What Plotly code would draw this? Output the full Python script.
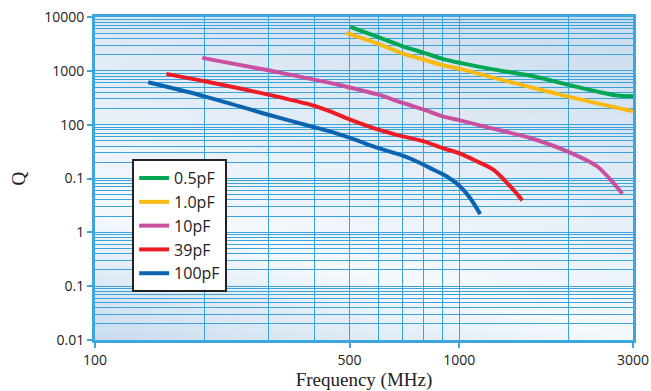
import base64
import plotly.graph_objects as go

# ---- data (frequency in MHz, Q) ----
f_05 = [502, 600, 700, 800, 900, 1006, 1217, 1597, 1980, 2440, 2717, 3000]
q_05 = [6570, 4210, 2860, 2160, 1670, 1405, 1087, 792, 555, 399, 347, 336]

f_10 = [489, 600, 700, 800, 900, 1006, 1217, 1567, 1980, 3000]
q_10 = [5080, 3170, 2095, 1620, 1270, 1087, 771, 499, 336, 177]

f_10p = [197, 299, 442, 471, 600, 700, 800, 900, 1006, 1166, 1567, 1980, 2394, 2649, 2804]
q_10p = [1742, 1023, 597, 539, 361, 253, 190, 143, 120, 93, 56.6, 31.9, 16.7, 8.3, 5.2]

f_39 = [157, 200, 299, 398, 442, 502, 600, 700, 800, 900, 1006, 1095, 1243, 1407, 1490]
q_39 = [878, 639, 361, 226, 177, 124, 80.7, 60.6, 48.9, 36.8, 29, 22.3, 14.5, 6.2, 3.9]

f_100 = [140, 200, 299, 398, 442, 502, 600, 700, 781, 850, 925, 1006, 1072, 1142]
q_100 = [612, 336, 153, 90.6, 75, 56.6, 36.8, 26.5, 19.4, 14.5, 10.9, 7.1, 4.3, 2.18]

series_names = ["0.5pF", "1.0pF", "10pF", "39pF", "100pF"]
series_colors = ["#00a651", "#fdb913", "#c9509e", "#ed1c24", "#0a64b0"]

x_major = [100, 500, 1000, 3000]
x_major_text = ["100", "500", "1000", "3000"]
x_minor = [200, 300, 400, 600, 700, 800, 900, 2000]

y_major = [0.01, 0.1, 1, 10, 100, 1000, 10000]
y_major_text = ["0.01", "0.1", "1", "0.1", "100", "1000", "10000"]
y_minor = [m * 10 ** e for e in range(-2, 4) for m in range(2, 10)]

GRID = "#3aa3dc"
AXIS = "#3ea6de"

# ---- background gradient (plot area) ----
svg = (
    '<svg xmlns="http://www.w3.org/2000/svg" width="538" height="323" '
    'viewBox="0 0 1 1" preserveAspectRatio="none">'
    '<defs><linearGradient id="g" gradientUnits="userSpaceOnUse" '
    'x1="0" y1="1" x2="0.483" y2="-0.207">'
    '<stop offset="0" stop-color="#cadcee"/>'
    '<stop offset="0.29" stop-color="#f5f9fd"/>'
    '<stop offset="0.72" stop-color="#dbe7f3"/>'
    '<stop offset="1" stop-color="#c8dbee"/>'
    '</linearGradient></defs>'
    '<rect x="0" y="0" width="1" height="1" fill="url(#g)"/></svg>'
)
bg_src = "data:image/svg+xml;base64," + base64.b64encode(svg.encode()).decode()

fig = go.Figure()
for fx, qy, name, col in zip(
    [f_05, f_10, f_10p, f_39, f_100],
    [q_05, q_10, q_10p, q_39, q_100],
    series_names,
    series_colors,
):
    fig.add_trace(
        go.Scatter(
            x=fx, y=qy, name=name, mode="lines",
            line=dict(color=col, width=4, shape="spline", smoothing=0.8),
        )
    )

fig.update_layout(
    width=651, height=391,
    margin=dict(l=95, r=18, t=17, b=51),
    paper_bgcolor="white",
    plot_bgcolor="#e4eef7",
    hovermode=False,
    dragmode=False,
    showlegend=True,
    legend=dict(
        x=0.069, y=0.56, xanchor="left", yanchor="top",
        bgcolor="white", bordercolor="#222", borderwidth=2,
        font=dict(family="Open Sans", size=16, color="#222"),
    ),
    images=[dict(
        source=bg_src, xref="paper", yref="paper", x=0, y=1,
        sizex=1, sizey=1, sizing="stretch", layer="below",
        xanchor="left", yanchor="top",
    )],
)

fig.update_xaxes(
    type="log", range=[2, 3.4771], automargin=False,
    tickvals=x_major, ticktext=x_major_text,
    ticks="outside", ticklen=5, tickwidth=2, tickcolor=AXIS,
    showgrid=True, gridcolor=GRID, gridwidth=1,
    minor=dict(tickvals=x_minor, showgrid=True, gridcolor=GRID, gridwidth=1, ticks=""),
    showline=True, linecolor=AXIS, linewidth=3, mirror=True,
    tickfont=dict(family="Open Sans", size=14, color="#222"),
    title=dict(text="Frequency (MHz)", standoff=4,
               font=dict(family="Liberation Serif", size=19, color="#222")),
    zeroline=False, showspikes=False,
)
fig.update_yaxes(
    type="log", range=[-2, 4], automargin=False,
    tickvals=y_major, ticktext=y_major_text,
    ticks="outside", ticklen=5, tickwidth=2, tickcolor=AXIS,
    showgrid=True, gridcolor=GRID, gridwidth=1,
    minor=dict(tickvals=y_minor, showgrid=True, gridcolor=GRID, gridwidth=1, ticks=""),
    showline=True, linecolor=AXIS, linewidth=3, mirror=True,
    tickfont=dict(family="Open Sans", size=14, color="#222"),
    title=dict(text="Q", standoff=14,
               font=dict(family="Liberation Serif", size=19, color="#222")),
    zeroline=False, showspikes=False,
)

fig.write_html(
    "out.html",
    config={"displayModeBar": False, "staticPlot": True},
    post_script="document.body.style.margin='0';document.body.style.overflow='hidden';",
)
